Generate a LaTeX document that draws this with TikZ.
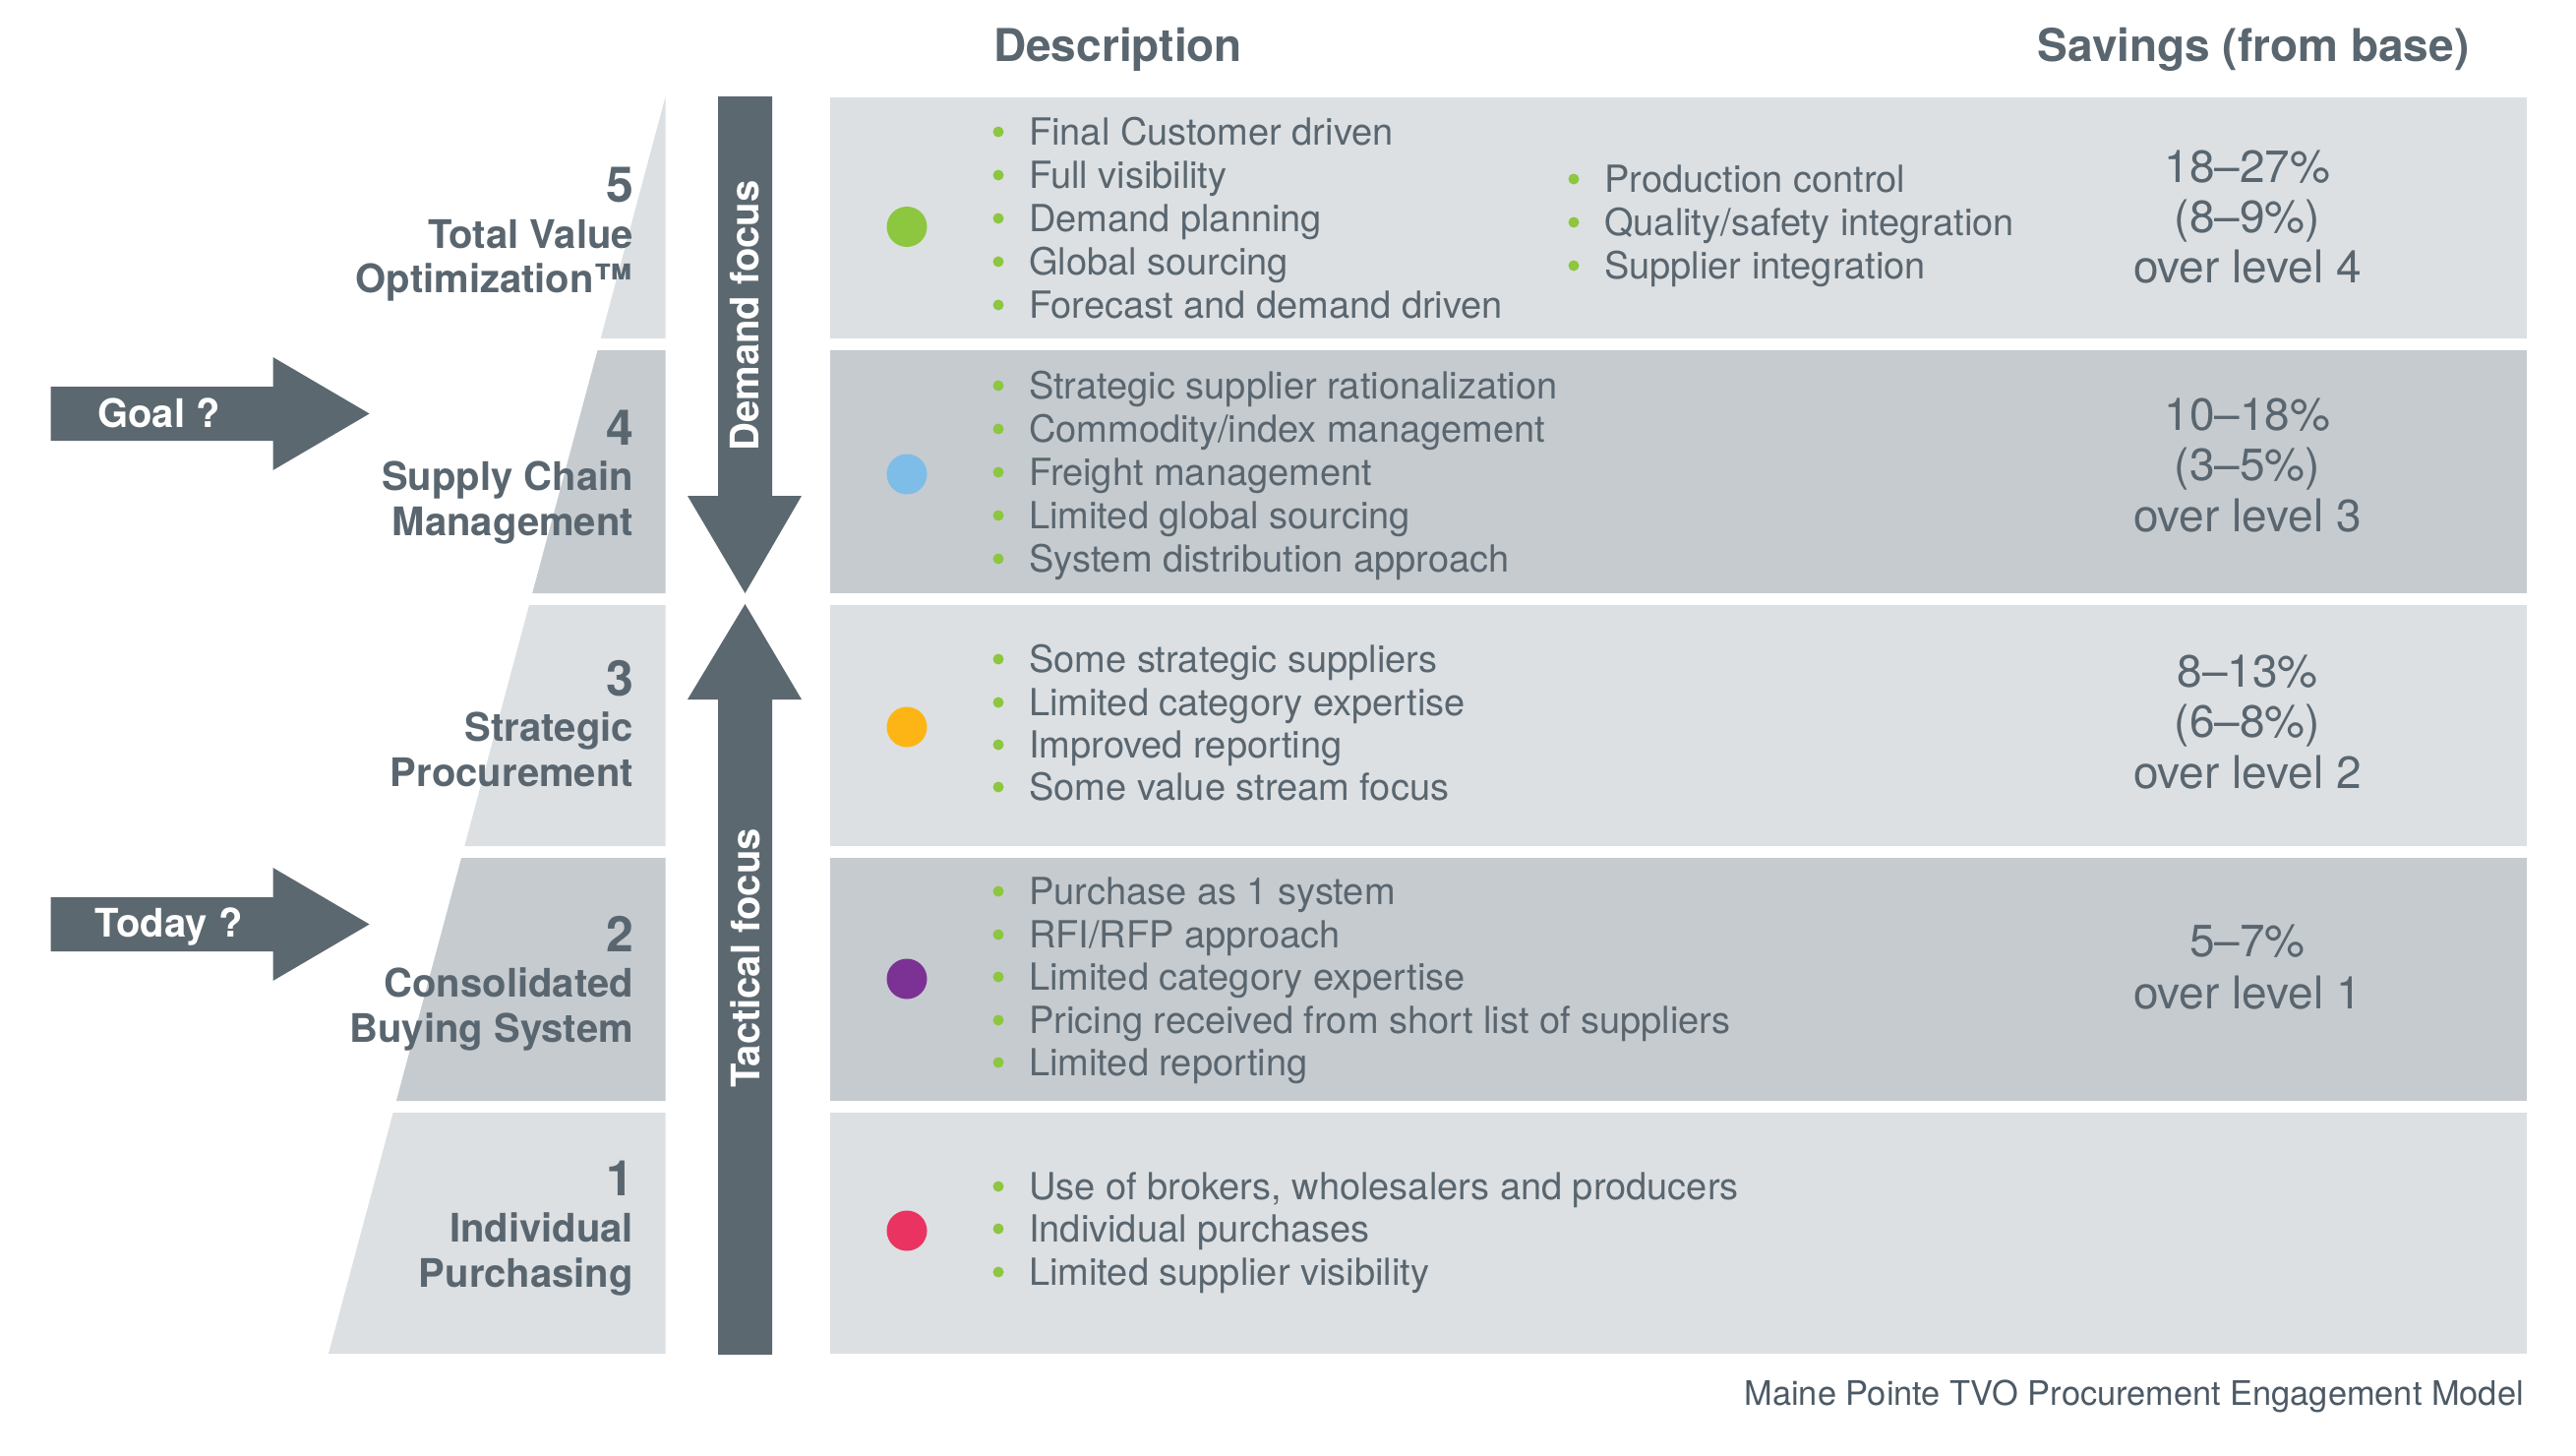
\documentclass[tikz,border=0pt]{standalone}
\usepackage{fontspec}
\setmainfont{TeX Gyre Heros}
\definecolor{txt}{RGB}{90,102,111}
\definecolor{arr}{RGB}{92,104,112}
\definecolor{rowlight}{RGB}{220,224,227}
\definecolor{rowdark}{RGB}{198,203,207}
\definecolor{bulgreen}{RGB}{141,198,63}
\definecolor{cgreen}{RGB}{141,198,63}
\definecolor{cblue}{RGB}{126,189,232}
\definecolor{corange}{RGB}{253,181,21}
\definecolor{cpurple}{RGB}{123,50,148}
\definecolor{cpink}{RGB}{234,51,97}
\definecolor{captxt}{RGB}{76,90,102}
\tikzset{
  lbl/.style={font=\fontsize{40}{45}\selectfont\bfseries, text=txt, anchor=base east, inner sep=0pt},
  lvlnum/.style={font=\fontsize{50}{55}\selectfont\bfseries, text=txt, anchor=base east, inner sep=0pt},
  itm/.style={font=\fontsize{38}{44}\selectfont, text=txt, anchor=base west, inner sep=0pt},
  sav/.style={font=\fontsize{46}{50}\selectfont, text=txt, anchor=base, inner sep=0pt},
  hdr/.style={font=\fontsize{46}{50}\selectfont\bfseries, text=txt, inner sep=0pt},
  arrtxt/.style={font=\fontsize{40}{44}\selectfont\bfseries, text=white, inner sep=0pt},
  dot/.style={circle, minimum size=41pt, inner sep=0pt},
}
\newcommand\bitem[4]{%
  \fill[bulgreen] (#2-31,#3-13) circle (5.5pt);
  \node[itm] (#1) at (#2,#3) {#4};}
\begin{document}
\begin{tikzpicture}[x=1pt,y=-1pt]
\useasboundingbox (0,0) rectangle (2619,1480);
% row boxes
\fill[rowlight] (843.5,98.5) rectangle (2569,344);
\fill[rowdark]  (843.5,356) rectangle (2569,603);
\fill[rowlight] (843.5,615) rectangle (2569,860);
\fill[rowdark]  (843.5,872) rectangle (2569,1119);
\fill[rowlight] (843.5,1131) rectangle (2569,1376);
% pyramid
\fill[rowlight] (676.5,98.5) -- (676.5,344) -- (610.7,344) -- cycle;
\fill[rowdark]  (607.5,356) -- (676.5,356) -- (676.5,603) -- (541.2,603) -- cycle;
\fill[rowlight] (538.0,615) -- (676.5,615) -- (676.5,860) -- (472.3,860) -- cycle;
\fill[rowdark]  (469.1,872) -- (676.5,872) -- (676.5,1119) -- (402.9,1119) -- cycle;
\fill[rowlight] (399.7,1131) -- (676.5,1131) -- (676.5,1376) -- (334,1376) -- cycle;
% vertical arrows
\fill[arr] (730,98) -- (785,98) -- (785,504) -- (815,504) -- (757.5,603) -- (699,504) -- (730,504) -- cycle;
\fill[arr] (730,1377) -- (785,1377) -- (785,711) -- (815,711) -- (757.5,614) -- (699,711) -- (730,711) -- cycle;
\node[arrtxt, rotate=90] (demand) at (757.5,321) {Demand focus};
\node[arrtxt, rotate=90] (tactical) at (757.5,974) {Tactical focus};
% side arrows
\fill[arr] (51.5,393) -- (277.5,393) -- (277.5,363) -- (375.6,420.5) -- (277.5,478) -- (277.5,448) -- (51.5,448) -- cycle;
\node[arrtxt, anchor=base west] (goal) at (99,434) {Goal ?};
\fill[arr] (51.5,912) -- (277.5,912) -- (277.5,882) -- (375.6,939.5) -- (277.5,997) -- (277.5,967) -- (51.5,967) -- cycle;
\node[arrtxt, anchor=base west] (today) at (96.5,952) {Today ?};
% pyramid labels
\node[lvlnum] (n5) at (644,205) {5};
\node[lbl] (l5a) at (644,252) {Total Value};
\node[lbl] (l5b) at (644,297) {Optimization™};
\node[lvlnum] (n4) at (644,452) {4};
\node[lbl] (l4a) at (644,498) {Supply Chain};
\node[lbl] (l4b) at (644,544) {Management};
\node[lvlnum] (n3) at (644,707) {3};
\node[lbl] (l3a) at (644,753) {Strategic};
\node[lbl] (l3b) at (644,799) {Procurement};
\node[lvlnum] (n2) at (644,967) {2};
\node[lbl] (l2a) at (644,1013) {Consolidated};
\node[lbl] (l2b) at (644,1059) {Buying System};
\node[lvlnum] (n1) at (644,1215) {1};
\node[lbl] (l1a) at (644,1262) {Individual};
\node[lbl] (l1b) at (644,1308) {Purchasing};
% headers
\node[hdr, anchor=base west] (hdesc) at (1010,63) {Description};
\node[hdr, anchor=base] (hsav) at (2291,63) {Savings (from base)};
% colored dots
\node[dot, fill=cgreen]  (d5) at (922,230.5) {};
\node[dot, fill=cblue]   (d4) at (922,482) {};
\node[dot, fill=corange] (d3) at (922,739) {};
\node[dot, fill=cpurple] (d2) at (922,995) {};
\node[dot, fill=cpink]   (d1) at (922,1251) {};
% row 5 items
\bitem{a51}{1046}{147}{Final Customer driven}
\bitem{a52}{1046}{191}{Full visibility}
\bitem{a53}{1046}{235}{Demand planning}
\bitem{a54}{1046}{279}{Global sourcing}
\bitem{a55}{1046}{323}{Forecast and demand driven}
\bitem{b51}{1631}{195}{Production control}
\bitem{b52}{1631}{239}{Quality/safety integration}
\bitem{b53}{1631}{283}{Supplier integration}
% row 4 items
\bitem{a41}{1046}{405}{Strategic supplier rationalization}
\bitem{a42}{1046}{449}{Commodity/index management}
\bitem{a43}{1046}{493}{Freight management}
\bitem{a44}{1046}{537}{Limited global sourcing}
\bitem{a45}{1046}{581}{System distribution approach}
% row 3 items
\bitem{a31}{1046}{683}{Some strategic suppliers}
\bitem{a32}{1046}{727}{Limited category expertise}
\bitem{a33}{1046}{770}{Improved reporting}
\bitem{a34}{1046}{813}{Some value stream focus}
% row 2 items
\bitem{a21}{1046}{919}{Purchase as 1 system}
\bitem{a22}{1046}{963}{RFI/RFP approach}
\bitem{a23}{1046}{1006}{Limited category expertise}
\bitem{a24}{1046}{1050}{Pricing received from short list of suppliers}
\bitem{a25}{1046}{1093}{Limited reporting}
% row 1 items
\bitem{a11}{1046}{1219}{Use of brokers, wholesalers and producers}
\bitem{a12}{1046}{1262}{Individual purchases}
\bitem{a13}{1046}{1306}{Limited supplier visibility}
% savings
\node[sav] (s5a) at (2285,185) {18–27\%};
\node[sav] (s5b) at (2285,236) {(8–9\%)};
\node[sav] (s5c) at (2285,287) {over level 4};
\node[sav] (s4a) at (2285,437) {10–18\%};
\node[sav] (s4b) at (2285,488) {(3–5\%)};
\node[sav] (s4c) at (2285,540) {over level 3};
\node[sav] (s3a) at (2285,698) {8–13\%};
\node[sav] (s3b) at (2285,749) {(6–8\%)};
\node[sav] (s3c) at (2285,801) {over level 2};
\node[sav] (s2a) at (2285,972) {5–7\%};
\node[sav] (s2b) at (2285,1025) {over level 1};
% caption
\node[font=\fontsize{34.4}{40}\selectfont, text=captxt, anchor=base east, inner sep=0pt] (cap) at (2566,1428) {Maine Pointe TVO Procurement Engagement Model};
\end{tikzpicture}
\end{document}
